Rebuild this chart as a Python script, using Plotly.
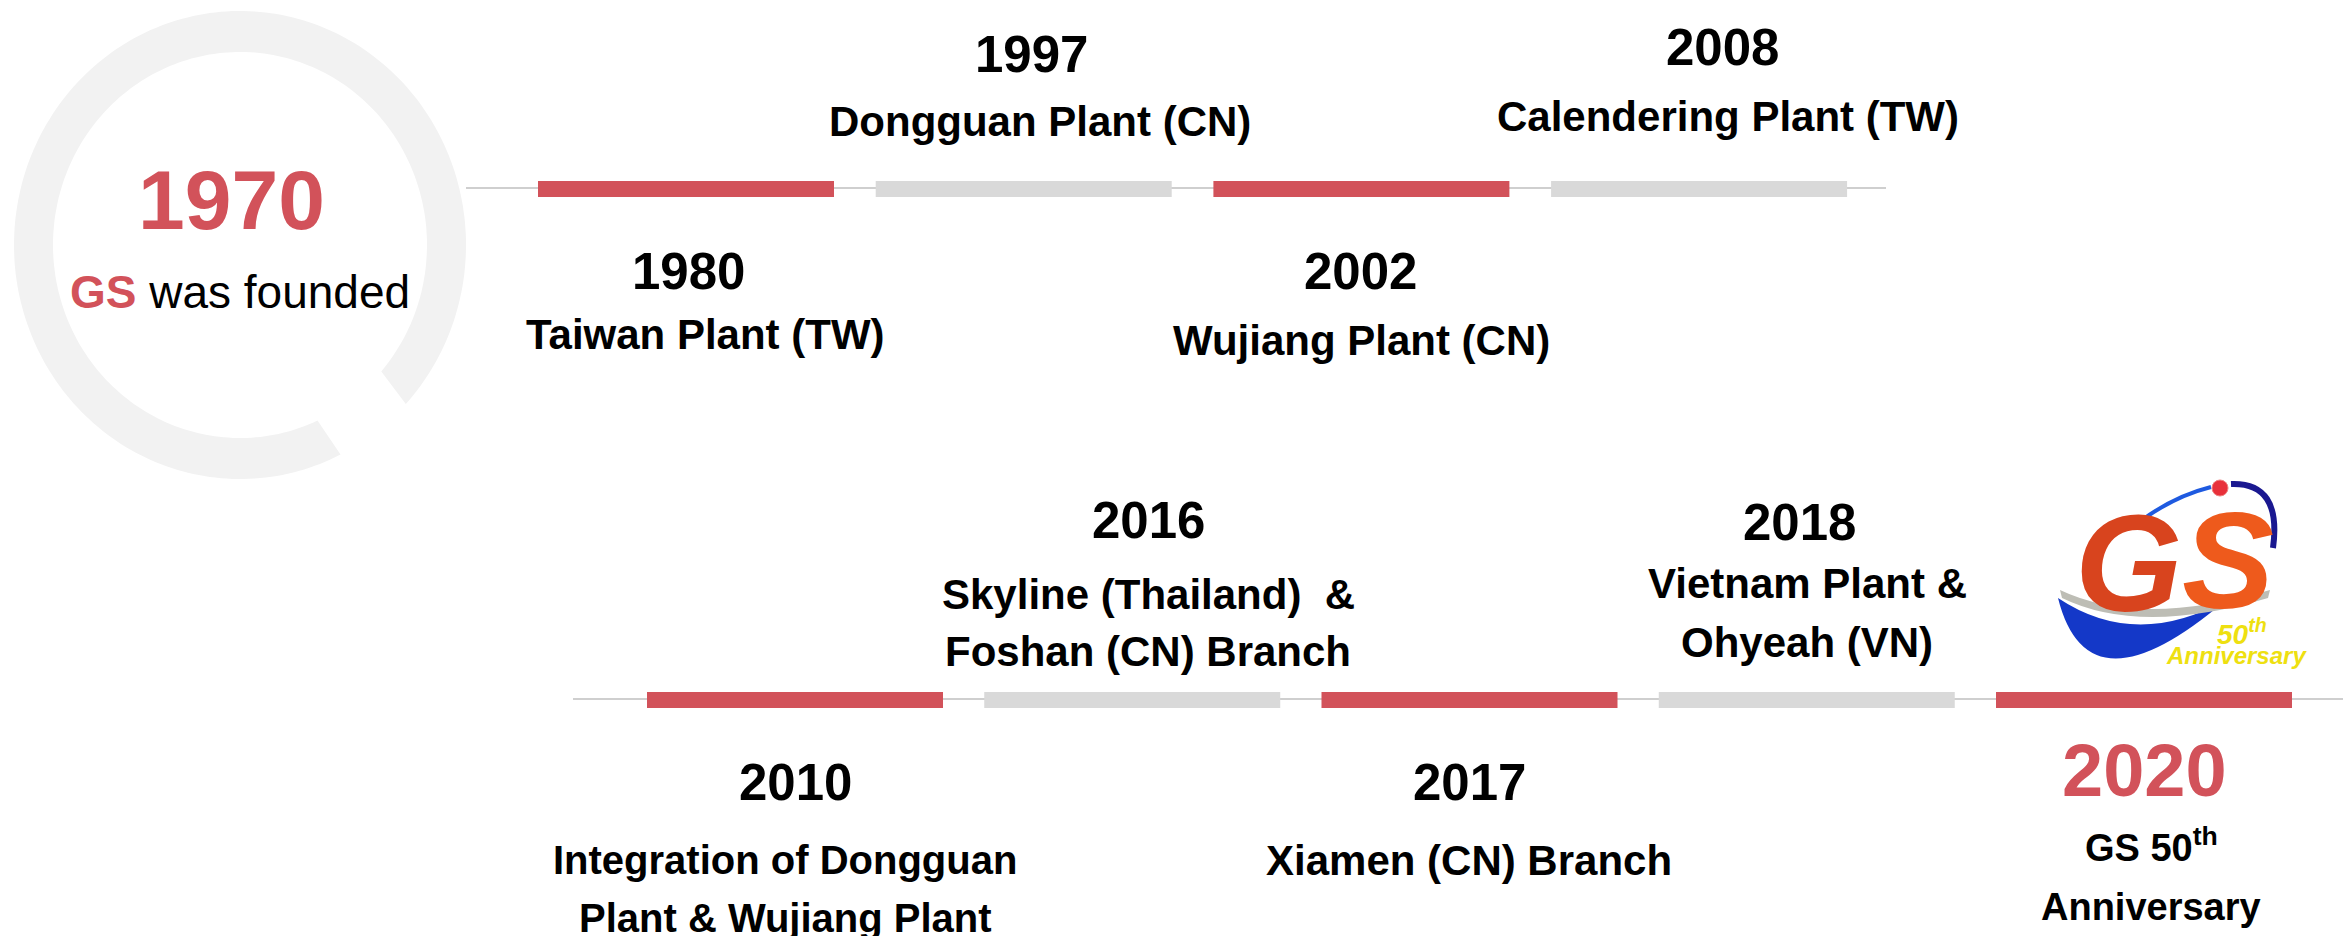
import numpy as np
import plotly.graph_objects as go

W, H = 2343, 936

# ---------------- data ----------------
founding_year = "1970"
founding_brand = "GS"
founding_text = "was founded"

top_years = ["1980", "1997", "2002", "2008"]
top_labels = ["Taiwan Plant (TW)", "Dongguan Plant (CN)",
              "Wujiang Plant (CN)", "Calendering Plant (TW)"]

bottom_years = ["2010", "2016", "2017", "2018", "2020"]
bottom_labels = ["Integration of Dongguan<br>Plant & Wujiang Plant",
                 "Skyline (Thailand)\u00a0 &<br>Foshan (CN) Branch",
                 "Xiamen (CN) Branch",
                 "Vietnam Plant &<br>Ohyeah (VN)",
                 "GS 50<sup>th</sup><br>Anniversary"]

logo_brand = "GS"
logo_caption = ["50<sup>th</sup>", "Anniversary"]

# ---------------- styling / layout ----------------
RED = "#D2525A"
GRAY_BAR = "#D9D9D9"
LINE = "#CFCFCF"
RING = "#F2F2F2"
FONT = "Liberation Sans, Arial, sans-serif"

shapes = []
annotations = []


def ann(x, y, text, size, color="black", bold=True, italic=False, xanchor="center"):
    t = text
    if italic:
        t = "<i>" + t + "</i>"
    if bold:
        t = "<b>" + t + "</b>"
    annotations.append(dict(x=x, y=y, xref="x", yref="y", text=t, showarrow=False,
                            xanchor=xanchor, yanchor="middle",
                            font=dict(family=FONT, size=size, color=color)))


# ---- founding ring ----
def ell(cx, cy, rx, ry, t0, t1, n=240):
    t = np.radians(np.linspace(t0, t1, n))
    return cx + rx * np.cos(t), cy + ry * np.sin(t)

ox, oy = ell(240, 245, 226, 234, 42.8, 63.6 - 360)
ix, iy = ell(240, 245, 187, 193, 65.5 - 360, 40.9)
px = np.concatenate([ox, ix])
py = np.concatenate([oy, iy])
path = "M " + " L ".join(f"{a:.1f},{b:.1f}" for a, b in zip(px, py)) + " Z"
shapes.append(dict(type="path", path=path, xref="x", yref="y",
                   fillcolor=RING, line=dict(width=0), layer="below"))

ann(231, 200, founding_year, 84, RED)
annotations.append(dict(x=240, y=292, xref="x", yref="y", showarrow=False,
                        xanchor="center", yanchor="middle",
                        text=f"<b><span style='color:{RED}'>{founding_brand}</span></b> {founding_text}",
                        font=dict(family=FONT, size=46, color="black")))

# ---- top timeline ----
top_line = (466, 1886, 188)
top_bar_x0, bar_pitch_top, bar_w, bar_h = 538, 337.7, 296, 16
top_bar_cy = 189
top_year_x = [688, 1031, 1360, 1722]
top_year_y = [271, 54, 271, 47]
top_desc_x = [705, 1040, 1361, 1728]
top_desc_y = [334, 121, 340, 116]

shapes.append(dict(type="line", x0=top_line[0], x1=top_line[1], y0=top_line[2], y1=top_line[2],
                   xref="x", yref="y", line=dict(color=LINE, width=2), layer="below"))
for i, (yr, lab) in enumerate(zip(top_years, top_labels)):
    x0 = top_bar_x0 + i * bar_pitch_top
    shapes.append(dict(type="rect", x0=x0, x1=x0 + bar_w,
                       y0=top_bar_cy - bar_h / 2, y1=top_bar_cy + bar_h / 2,
                       xref="x", yref="y", fillcolor=RED if i % 2 == 0 else GRAY_BAR,
                       line=dict(width=0), layer="below"))
    ann(top_year_x[i], top_year_y[i], yr, 51)
    ann(top_desc_x[i], top_desc_y[i], lab, 42)

# ---- bottom timeline ----
bot_line = (573, W, 699)
bot_bar_x0, bar_pitch_bot = 647, 337.25
bot_bar_cy = 700
bot_year_x = [795, 1148, 1469, 1799, 2144]
bot_year_y = [782, 520, 782, 522, 770]
bot_desc_x = [785, 1148, 1469, 1807, 2151]
bot_desc_y = [[860, 918], [594, 651], [860], [583, 642], [845, 907]]
bot_year_size = [51, 51, 51, 51, 74]
bot_desc_size = [40, 42, 42, 42, 38]
bot_year_color = ["black", "black", "black", "black", RED]

shapes.append(dict(type="line", x0=bot_line[0], x1=bot_line[1], y0=bot_line[2], y1=bot_line[2],
                   xref="x", yref="y", line=dict(color=LINE, width=2), layer="below"))
for i, (yr, lab) in enumerate(zip(bottom_years, bottom_labels)):
    x0 = bot_bar_x0 + i * bar_pitch_bot
    shapes.append(dict(type="rect", x0=x0, x1=x0 + bar_w,
                       y0=bot_bar_cy - bar_h / 2, y1=bot_bar_cy + bar_h / 2,
                       xref="x", yref="y", fillcolor=RED if i % 2 == 0 else GRAY_BAR,
                       line=dict(width=0), layer="below"))
    ann(bot_year_x[i], bot_year_y[i], yr, bot_year_size[i], bot_year_color[i])
    for line_txt, ly in zip(lab.split("<br>"), bot_desc_y[i]):
        ann(bot_desc_x[i], ly, line_txt, bot_desc_size[i])

# ---- 50th anniversary logo (approximation) ----
# lower blue swoosh
shapes.append(dict(type="path", xref="x", yref="y", layer="above",
                   path="M 2058,598 Q 2088,718 2226,600 Q 2136,650 2058,598 Z",
                   fillcolor="#1438C8", line=dict(width=0)))
# gray bevel band under the letters
shapes.append(dict(type="path", xref="x", yref="y", layer="above",
                   path="M 2060,590 Q 2140,628 2270,590 L 2268,598 Q 2140,636 2062,598 Z",
                   fillcolor="#BDBDB5", line=dict(width=0)))
# upper thin arcs
shapes.append(dict(type="path", xref="x", yref="y", layer="above",
                   path="M 2142,520 Q 2175,496 2211,487",
                   line=dict(color="#1E5AE0", width=4)))
shapes.append(dict(type="path", xref="x", yref="y", layer="above",
                   path="M 2231,484 Q 2282,482 2273,548",
                   line=dict(color="#1A1890", width=6)))
# red ball
shapes.append(dict(type="circle", xref="x", yref="y", layer="above",
                   x0=2212, x1=2228, y0=480, y1=496,
                   fillcolor="#E8303A", line=dict(color="#F08080", width=1)))
# GS letters
ann(2128, 563, logo_brand[0], 138, "#D8441E", italic=True)
ann(2228, 560, logo_brand[1], 138, "#EE5A1C", italic=True)
ann(2242, 632, logo_caption[0], 28, "#EEE010", italic=True)
ann(2236, 655, logo_caption[1], 24, "#EEE010", italic=True)

fig = go.Figure()
fig.add_trace(go.Scatter(x=[0, W], y=[0, H], mode="markers",
                         marker=dict(opacity=0), hoverinfo="skip", showlegend=False))
fig.update_layout(
    width=W, height=H, margin=dict(l=0, r=0, t=0, b=0, pad=0),
    paper_bgcolor="white", plot_bgcolor="white",
    xaxis=dict(range=[0, W], visible=False, fixedrange=True),
    yaxis=dict(range=[H, 0], visible=False, fixedrange=True),
    shapes=shapes, annotations=annotations, showlegend=False,
)
fig.write_html("out.html", config={"displayModeBar": False},
               post_script="document.body.style.margin='0';document.body.style.overflow='hidden';")
